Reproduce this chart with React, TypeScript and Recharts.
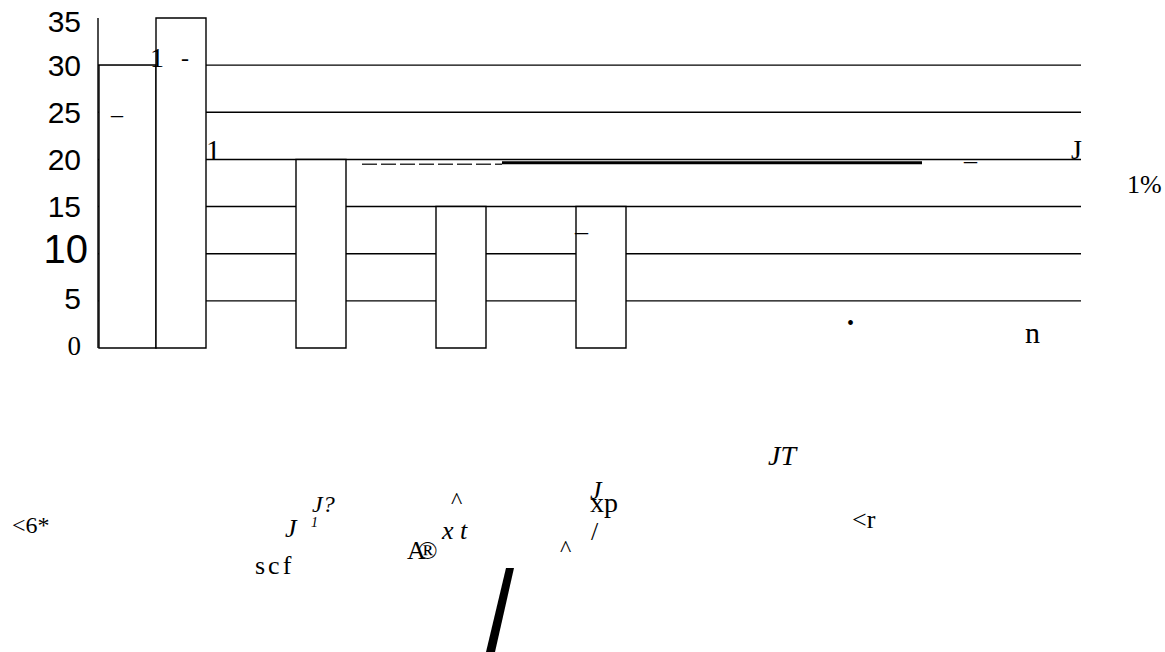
import React from 'react';
import { Bar, BarChart, CartesianGrid, ReferenceLine, XAxis, YAxis } from 'recharts';

// data
const categories = ['c1', 'c2', 'c3', 'c4', 'c5', 'c6', 'c7'];
const seriesA = [30, null, null, null, null, null, null];
const seriesB = [35, 20, 15, 15, null, null, null];
const yTicks = [0, 5, 10, 15, 20, 25, 30, 35];
const gridValues = [5, 10, 15, 20, 25, 30];
const thickLevel = 19.65;
const dashedLevel = 19.5;

const rows = categories.map((name, i) => ({ name, a: seriesA[i], b: seriesB[i] }));

const SERIF = "'Liberation Serif', 'Times New Roman', serif";
const SANS = "'Liberation Sans', Arial, sans-serif";

// stray glyphs scattered over the page (left x, baseline y)
const notes = [
  { text: '1', x: 150, y: 67, size: 28 },
  { text: '-', x: 181, y: 66, size: 24 },
  { text: '–', x: 111, y: 122, size: 24 },
  { text: '1', x: 206, y: 160, size: 29 },
  { text: '_', x: 575, y: 231, size: 26 },
  { text: '_', x: 964, y: 160, size: 26 },
  { text: 'J', x: 1071, y: 159, size: 28 },
  { text: '1%', x: 1127, y: 193, size: 26 },
  { text: '•', x: 847, y: 330, size: 20 },
  { text: 'n', x: 1025, y: 343, size: 30 },
  { text: '<6*', x: 12, y: 533, size: 24 },
  { text: 'J?', x: 312, y: 512, size: 24, italic: true },
  { text: 'J', x: 285, y: 537, size: 26, italic: true },
  { text: '1', x: 311, y: 527, size: 14, italic: true },
  { text: 'scf', x: 255, y: 574, size: 26, spacing: 3 },
  { text: '^', x: 451, y: 508, size: 24 },
  { text: 'x t', x: 442, y: 539, size: 26, italic: true },
  { text: '^', x: 560, y: 556, size: 24 },
  { text: '/', x: 591, y: 540, size: 26 },
  { text: 'JT', x: 768, y: 465, size: 28, italic: true },
  { text: '<r', x: 852, y: 528, size: 26 },
];

function YTick(props: any) {
  const { x, y, payload } = props;
  const v = payload.value;
  let size = 30;
  let family = SANS;
  let dx = -9;
  let dy = 0;
  if (v === 0) {
    family = SERIF;
    size = 27;
    dy = -3;
  } else if (v === 10) {
    size = 40;
    dx = -2;
    dy = -5;
  } else if (v === 5) {
    dy = -3;
  } else if (v === 35) {
    dy = 3;
  }
  return (
    <text
      x={x + dx}
      y={y + size * 0.358 + dy}
      textAnchor="end"
      fontFamily={family}
      fontSize={size}
      fill="#000"
    >
      {v}
    </text>
  );
}

export default function App() {
  return (
    <div style={{ position: 'absolute', left: 0, top: 0, width: 1165, height: 652, background: '#fff' }}>
      <BarChart
        width={1165}
        height={652}
        data={rows}
        margin={{ top: 18, right: 84, bottom: 304, left: 0 }}
        barGap={0}
      >
        <CartesianGrid
          horizontal
          vertical={false}
          horizontalValues={gridValues}
          stroke="#000"
          strokeWidth={1.4}
        />
        <XAxis
          dataKey="name"
          height={0}
          tick={false}
          tickLine={false}
          axisLine={{ stroke: '#000', strokeWidth: 1.4 }}
          padding={{ left: -16, right: 19 }}
        />
        <YAxis
          domain={[0, 35]}
          ticks={yTicks}
          interval={0}
          width={98}
          tick={<YTick />}
          tickLine={false}
          axisLine={{ stroke: '#000', strokeWidth: 1.4 }}
        />
        <YAxis
          yAxisId="r"
          orientation="right"
          domain={[0, 35]}
          width={0}
          tick={false}
          tickLine={false}
          axisLine={{ stroke: '#000', strokeWidth: 1.4 }}
        />
        <Bar dataKey="a" barSize={57} fill="#fff" stroke="#000" strokeWidth={1.4} isAnimationActive={false} />
        <Bar dataKey="b" barSize={50} fill="#fff" stroke="#000" strokeWidth={1.4} isAnimationActive={false} />
        <ReferenceLine
          segment={[
            { x: categories[2], y: dashedLevel },
            { x: categories[3], y: dashedLevel },
          ]}
          position="start"
          stroke="#333"
          strokeWidth={1.5}
          strokeDasharray="15 4"
        />
        <ReferenceLine
          segment={[
            { x: categories[3], y: thickLevel },
            { x: categories[6], y: thickLevel },
          ]}
          position="start"
          stroke="#000"
          strokeWidth={3}
        />
      </BarChart>
      <svg
        width={1165}
        height={652}
        style={{ position: 'absolute', left: 0, top: 0, pointerEvents: 'none' }}
      >
        {notes.map((n, i) => (
          <text
            key={i}
            x={n.x}
            y={n.y}
            fontFamily={SERIF}
            fontSize={n.size}
            fontStyle={n.italic ? 'italic' : 'normal'}
            letterSpacing={n.spacing ?? 0}
            fill="#000"
          >
            {n.text}
          </text>
        ))}
        <text fontFamily={SERIF} fill="#000">
          <tspan x={590} y={499} fontSize={26} fontStyle="italic">J</tspan>
          <tspan x={590} y={512} fontSize={28}>xp</tspan>
        </text>
        <text x={407} y={559} fontFamily={SERIF} fontSize={26} fill="#000">
          <tspan letterSpacing={-8}>A</tspan>
          <tspan>®</tspan>
        </text>
        <polygon points="506,568 514,568 495,652 486,652" fill="#000" />
      </svg>
    </div>
  );
}
